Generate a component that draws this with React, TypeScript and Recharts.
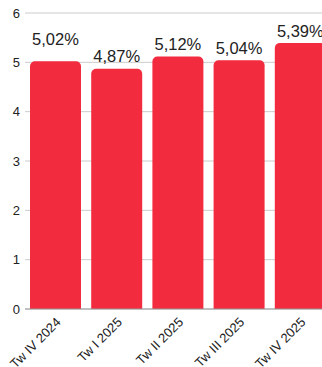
import React from 'react';
import { BarChart, Bar, XAxis, YAxis, CartesianGrid, LabelList } from 'recharts';

const categories = ['Tw IV 2024', 'Tw I 2025', 'Tw II 2025', 'Tw III 2025', 'Tw IV 2025'];
const values = [5.02, 4.87, 5.12, 5.04, 5.39];
const yTicks = [0, 1, 2, 3, 4, 5, 6];

const data = categories.map((c, i) => ({ name: c, value: values[i] }));

const FONT = '"Liberation Sans", Arial, sans-serif';

const renderLabel = (props: any) => {
  const { x, y, width, value, index } = props;
  const off = index === 0 ? 16 : 6.5;
  return (
    <text
      x={x + width / 2}
      y={y - off}
      textAnchor="middle"
      fill="#222"
      fontSize={16.5}
      fontFamily={FONT}
    >
      {value.toFixed(2).replace('.', ',') + '%'}
    </text>
  );
};

const renderXTick = (props: any) => {
  const { x, y, payload } = props;
  return (
    <g transform={`translate(${x + 6},${y + 14})`}>
      <text
        x={0}
        y={0}
        textAnchor="end"
        transform="rotate(-45)"
        fill="#222"
        fontSize={13}
        fontFamily={FONT}
      >
        {payload.value}
      </text>
    </g>
  );
};

export default function App() {
  return (
    <div style={{ position: 'absolute', left: 0, top: 0, background: '#fff' }}>
      <BarChart
        width={331}
        height={367}
        data={data}
        margin={{ top: 13, right: 0, bottom: 0, left: 0 }}
        barCategoryGap={5}
      >
        <CartesianGrid vertical={false} stroke="#cccccc" />
        <XAxis
          dataKey="name"
          height={58}
          tickLine={false}
          tickSize={0}
          axisLine={{ stroke: '#999999' }}
          interval={0}
          tick={renderXTick}
          tickMargin={0}
        />
        <YAxis
          width={25}
          domain={[0, 6]}
          ticks={yTicks}
          axisLine={false}
          tickLine={false}
          tickSize={0}
          tickMargin={5}
          tick={{ fill: '#222', fontSize: 13, fontFamily: FONT }}
        />
        <Bar dataKey="value" fill="#F32B3E" radius={[5, 5, 0, 0]} isAnimationActive={false}>
          <LabelList dataKey="value" content={renderLabel} />
        </Bar>
      </BarChart>
    </div>
  );
}
